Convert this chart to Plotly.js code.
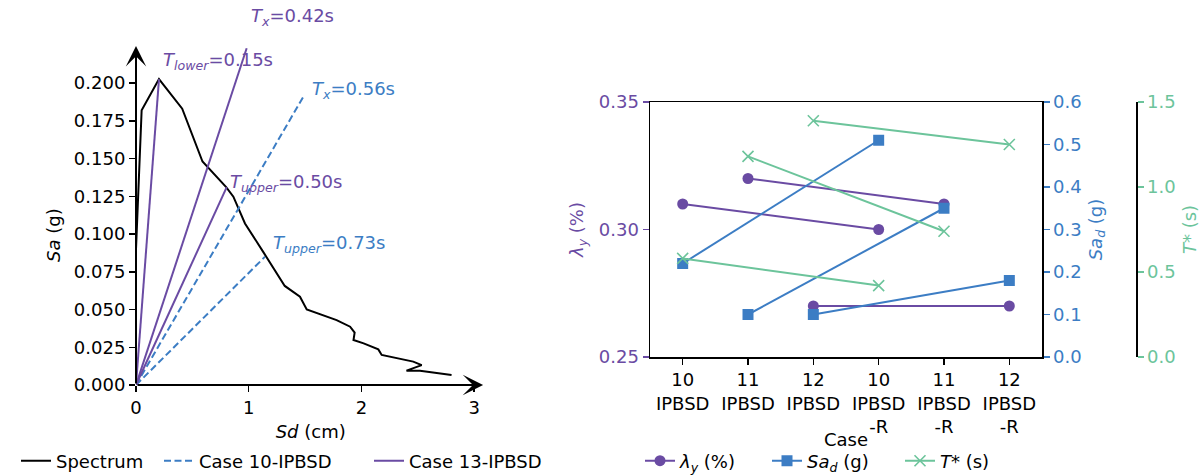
<!DOCTYPE html>
<html><head><meta charset="utf-8">
<script src="https://cdn.plot.ly/plotly-3.0.1.min.js"></script>
<style>html,body{margin:0;padding:0;background:#fff}#chart{width:1204px;height:475px}</style>
</head><body><div id="chart"></div>
<script>
// ---------- Left panel: spectrum ----------
const spectrumSd = [0, 0.05, 0.204, 0.41, 0.59, 0.80, 0.864, 0.967, 1.13, 1.32, 1.455, 1.515, 1.78, 1.90, 1.94, 1.93, 2.02, 2.15, 2.18, 2.46, 2.535, 2.40, 2.52, 2.80];
const spectrumSa = [0.09, 0.182, 0.2026, 0.183, 0.148, 0.131, 0.1247, 0.107, 0.088, 0.0656, 0.0585, 0.050, 0.043, 0.0386, 0.0347, 0.0298, 0.0276, 0.0236, 0.0199, 0.0155, 0.0132, 0.0095, 0.0095, 0.0066];

const case10Labels = ['<i>T</i><sub><i>x</i></sub>=0.56s', '<i>T</i><sub><i>upper</i></sub>=0.73s'];
const case10EndSd = [1.49, 1.145];
const case10EndSa = [0.1916, 0.085];

const case13Labels = ['<i>T</i><sub><i>lower</i></sub>=0.15s', '<i>T</i><sub><i>x</i></sub>=0.42s', '<i>T</i><sub><i>upper</i></sub>=0.50s'];
const case13EndSd = [0.204, 0.982, 0.805];
const case13EndSa = [0.2026, 0.223, 0.131];

const sdTickVals = [0, 1, 2, 3];
const saTickVals = [0, 0.025, 0.05, 0.075, 0.1, 0.125, 0.15, 0.175, 0.2];

// ---------- Right panel: case comparison ----------
const cases = ['10<br>IPBSD', '11<br>IPBSD', '12<br>IPBSD', '10<br>IPBSD<br>-R', '11<br>IPBSD<br>-R', '12<br>IPBSD<br>-R'];
const lambdaY = [0.31, 0.32, 0.27, 0.30, 0.31, 0.27];
const saD = [0.22, 0.10, 0.10, 0.51, 0.35, 0.18];
const tStar = [0.58, 1.18, 1.39, 0.42, 0.74, 1.25];
const pairs = [[0, 3], [1, 4], [2, 5]];

const PURPLE = '#6a4ba3';
const BLUE = '#3c7dc4';
const GREEN = '#6cc49b';
const FONT = 'DejaVu Sans, sans-serif';

const traces = [];
traces.push({x: spectrumSd, y: spectrumSa, mode: 'lines', name: 'Spectrum',
  line: {color: 'black', width: 2}, xaxis: 'x', yaxis: 'y', legend: 'legend'});
case10EndSd.forEach((sd, i) => traces.push({x: [0, sd], y: [0, case10EndSa[i]], mode: 'lines',
  name: 'Case 10-IPBSD', showlegend: i === 0, legend: 'legend2',
  line: {color: BLUE, width: 2, dash: '7px,3.5px'}, xaxis: 'x', yaxis: 'y'}));
case13EndSd.forEach((sd, i) => traces.push({x: [0, sd], y: [0, case13EndSa[i]], mode: 'lines',
  name: 'Case 13-IPBSD', showlegend: i === 0, legend: 'legend3',
  line: {color: PURPLE, width: 2}, xaxis: 'x', yaxis: 'y'}));

pairs.forEach((p, k) => {
  const xs = [cases[p[0]], cases[p[1]]];
  traces.push({x: xs, y: [lambdaY[p[0]], lambdaY[p[1]]], mode: 'lines+markers',
    name: '<i>λ</i><sub><i>y</i></sub> (%)', showlegend: k === 0, legend: 'legend4',
    line: {color: PURPLE, width: 2}, marker: {symbol: 'circle', size: 11, color: PURPLE},
    xaxis: 'x2', yaxis: 'y2'});
  traces.push({x: xs, y: [saD[p[0]], saD[p[1]]], mode: 'lines+markers',
    name: '<i>Sa</i><sub><i>d</i></sub> (g)', showlegend: k === 0, legend: 'legend5',
    line: {color: BLUE, width: 2}, marker: {symbol: 'square', size: 11, color: BLUE},
    xaxis: 'x2', yaxis: 'y3'});
  traces.push({x: xs, y: [tStar[p[0]], tStar[p[1]]], mode: 'lines+markers',
    name: '<i>T</i>* (s)', showlegend: k === 0, legend: 'legend6',
    line: {color: GREEN, width: 2}, marker: {symbol: 'x-thin', size: 11, color: GREEN, line: {color: GREEN, width: 1.6}},
    xaxis: 'x2', yaxis: 'y4'});
});

// label offsets in pixels from line ends
const case10Shift = [[6, 6], [6, 13]];
const case13Shift = [[2, 18], [2, 31], [1, 4]];
const annotations = [];
case10Labels.forEach((t, i) => annotations.push({x: case10EndSd[i], y: case10EndSa[i], xref: 'x', yref: 'y',
  text: t, showarrow: false, xanchor: 'left', yanchor: 'middle', xshift: case10Shift[i][0], yshift: case10Shift[i][1],
  font: {family: FONT, size: 18, color: BLUE}}));
case13Labels.forEach((t, i) => annotations.push({x: case13EndSd[i], y: case13EndSa[i], xref: 'x', yref: 'y',
  text: t, showarrow: false, xanchor: 'left', yanchor: 'middle', xshift: case13Shift[i][0], yshift: case13Shift[i][1],
  font: {family: FONT, size: 18, color: PURPLE}}));
// axis arrows
annotations.push({x: 0, y: 0.2245, ax: 0, ay: 0, xref: 'x', yref: 'y', axref: 'x', ayref: 'y', text: '',
  showarrow: true, arrowhead: 3, arrowsize: 1.7, arrowwidth: 2, arrowcolor: 'black', standoff: 0});
annotations.push({x: 3.08, y: 0, ax: 0, ay: 0, xref: 'x', yref: 'y', axref: 'x', ayref: 'y', text: '',
  showarrow: true, arrowhead: 3, arrowsize: 1.7, arrowwidth: 2, arrowcolor: 'black', standoff: 0});
// left y title
annotations.push({x: 53/1204, y: (475-235)/475, xref: 'paper', yref: 'paper', text: '<i>Sa</i> (g)',
  xanchor: 'center', yanchor: 'middle', textangle: -90, showarrow: false, font: {family: FONT, size: 18, color: 'black'}});
// right x title
annotations.push({x: 846/1204, y: (475-439)/475, xref: 'paper', yref: 'paper', text: 'Case',
  xanchor: 'center', yanchor: 'middle', showarrow: false, font: {family: FONT, size: 18, color: 'black'}});

const legendBase = {orientation: 'h', yanchor: 'middle', xanchor: 'left', y: (475-461)/475,
  bgcolor: 'rgba(0,0,0,0)', borderwidth: 0, font: {family: FONT, size: 18, color: 'black'}};
const layout = {
  width: 1204, height: 475, margin: {l: 0, r: 0, t: 0, b: 0, autoexpand: false},
  paper_bgcolor: 'white', plot_bgcolor: 'rgba(0,0,0,0)',
  font: {family: FONT, size: 18, color: 'black'},
  showlegend: true,
  legend: Object.assign({}, legendBase, {x: 16/1204}),
  legend2: Object.assign({}, legendBase, {x: 159/1204}),
  legend3: Object.assign({}, legendBase, {x: 369/1204}),
  legend4: Object.assign({}, legendBase, {x: 640/1204}),
  legend5: Object.assign({}, legendBase, {x: 767/1204}),
  legend6: Object.assign({}, legendBase, {x: 900/1204}),
  xaxis: {domain: [136/1204, (136 + 3.1*112.7)/1204], range: [0, 3.1], tickmode: 'array', tickvals: sdTickVals,
    ticks: 'outside', ticklen: 6, tickwidth: 1.5, tickcolor: 'black', showline: false, zeroline: false, showgrid: false,
    title: {text: '<i>Sd</i> (cm)', standoff: 8, font: {family: FONT, size: 18}}, anchor: 'y'},
  yaxis: {domain: [(475-385)/475, (475-7.5)/475], range: [0, 0.25], tickmode: 'array', tickvals: saTickVals, tickformat: '.3f',
    ticks: 'outside', ticklen: 6, tickwidth: 1.5, tickcolor: 'black', showline: false, zeroline: false, showgrid: false, anchor: 'x'},
  xaxis2: {domain: [650/1204, 1042/1204], type: 'category', categoryarray: cases, categoryorder: 'array', range: [-0.5, 5.5],
    ticks: 'outside', ticklen: 6, tickwidth: 1.5, tickcolor: 'black', showline: true, mirror: true, linecolor: 'black', linewidth: 1.5,
    showgrid: false, zeroline: false, anchor: 'y2'},
  yaxis2: {domain: [(475-357)/475, (475-102)/475], range: [0.25, 0.35], tickvals: [0.25, 0.30, 0.35], tickformat: '.2f',
    ticks: 'outside', ticklen: 6, tickwidth: 1.5, tickcolor: PURPLE, tickfont: {color: PURPLE, size: 18, family: FONT},
    showline: true, linecolor: 'black', linewidth: 1.5, showgrid: false, zeroline: false, anchor: 'x2',
    title: {text: '<i>λ</i><sub><i>y</i></sub> (%)', standoff: 10, font: {color: PURPLE, size: 18, family: FONT}}},
  yaxis3: {overlaying: 'y2', side: 'right', anchor: 'x2', range: [0, 0.6], dtick: 0.1, tick0: 0, tickformat: '.1f',
    ticks: 'outside', ticklen: 6, tickwidth: 1.5, tickcolor: BLUE, tickfont: {color: BLUE, size: 18, family: FONT},
    showline: true, linecolor: 'black', linewidth: 1.5, showgrid: false, zeroline: false,
    title: {text: '<i>Sa</i><sub><i>d</i></sub> (g)', standoff: 8, font: {color: BLUE, size: 18, family: FONT}}},
  yaxis4: {overlaying: 'y2', side: 'right', anchor: 'free', position: 1136/1204, range: [0, 1.5], dtick: 0.5, tick0: 0, tickformat: '.1f',
    ticks: 'outside', ticklen: 6, tickwidth: 1.5, tickcolor: GREEN, tickfont: {color: GREEN, size: 18, family: FONT},
    showline: true, linecolor: 'black', linewidth: 1.5, showgrid: false, zeroline: false,
    title: {text: '<i>T</i>* (s)', standoff: 8, font: {color: GREEN, size: 18, family: FONT}}},
  annotations: annotations
};
Plotly.newPlot('chart', traces, layout, {staticPlot: true, displayModeBar: false});
</script>
</body></html>
